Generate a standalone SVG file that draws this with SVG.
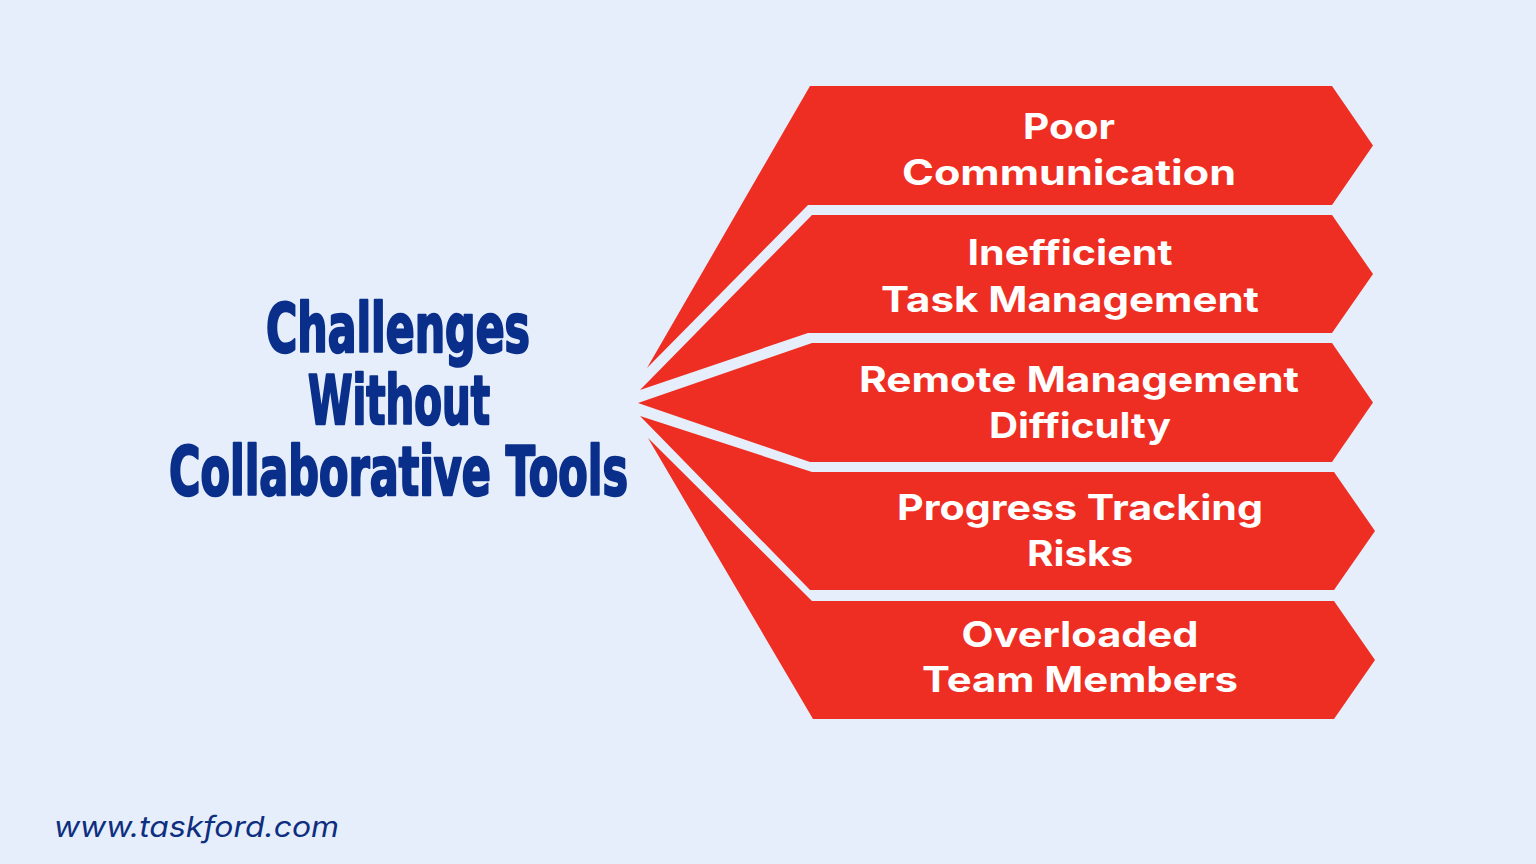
<svg xmlns="http://www.w3.org/2000/svg" width="1536" height="864" viewBox="0 0 1536 864">
  <style>
    .bg { fill: #E6EEFB; }
    .box { fill: #EE2E22; }
    .lbl { font-family: Inter, "Noto Sans", "DejaVu Sans", sans-serif; font-weight: 700; font-size: 35px; fill: #FFFFFF; text-anchor: middle; }
    .title { font-family: "DejaVu Sans Condensed", "DejaVu Sans", sans-serif; font-weight: 700; font-size: 68px; fill: #0A2F8B; stroke: #0A2F8B; stroke-width: 2.4px; stroke-linejoin: round; text-anchor: middle; }
    .url { font-family: Inter, "Noto Sans", sans-serif; font-style: italic; font-weight: 400; font-size: 29px; fill: #0E2F80; }
  </style>
  <rect class="bg" x="0" y="0" width="1536" height="864"/>

  <g id="title">
    <text class="title" x="398" y="352" textLength="264" lengthAdjust="spacingAndGlyphs">Challenges</text>
    <text class="title" x="399" y="423.5" textLength="182" lengthAdjust="spacingAndGlyphs">Without</text>
    <text class="title" x="398.5" y="495" textLength="459" lengthAdjust="spacingAndGlyphs">Collaborative Tools</text>
  </g>

  <g id="node-poor-communication">
    <polygon class="box" points="647,368 810,86 1332,86 1373,145.5 1332,205 808,205"/>
    <text class="lbl" x="1069" y="139" textLength="92" lengthAdjust="spacingAndGlyphs">Poor</text>
    <text class="lbl" x="1069" y="185" textLength="334" lengthAdjust="spacingAndGlyphs">Communication</text>
  </g>

  <g id="node-inefficient-task-management">
    <polygon class="box" points="640,390 812,215 1332,215 1373,274 1332,333 808,333"/>
    <text class="lbl" x="1070" y="265" textLength="205" lengthAdjust="spacingAndGlyphs">Inefficient</text>
    <text class="lbl" x="1070" y="312" textLength="378" lengthAdjust="spacingAndGlyphs">Task Management</text>
  </g>

  <g id="node-remote-management-difficulty">
    <polygon class="box" points="638,403 812,343 1332,343 1373,402.5 1332,462 810,462"/>
    <text class="lbl" x="1079" y="392" textLength="440" lengthAdjust="spacingAndGlyphs">Remote Management</text>
    <text class="lbl" x="1080" y="438" textLength="182" lengthAdjust="spacingAndGlyphs">Difficulty</text>
  </g>

  <g id="node-progress-tracking-risks">
    <polygon class="box" points="640,416 812,472 1334,472 1375,531 1334,590 810,590"/>
    <text class="lbl" x="1080" y="520" textLength="366" lengthAdjust="spacingAndGlyphs">Progress Tracking</text>
    <text class="lbl" x="1080" y="566" textLength="106" lengthAdjust="spacingAndGlyphs">Risks</text>
  </g>

  <g id="node-overloaded-team-members">
    <polygon class="box" points="648,438 812,601 1334,601 1375,660 1334,719 813,719"/>
    <text class="lbl" x="1080" y="647" textLength="237" lengthAdjust="spacingAndGlyphs">Overloaded</text>
    <text class="lbl" x="1080" y="692" textLength="316" lengthAdjust="spacingAndGlyphs">Team Members</text>
  </g>

  <g id="footer-url">
    <text class="url" x="54" y="837" textLength="285" lengthAdjust="spacingAndGlyphs">www.taskford.com</text>
  </g>
</svg>
